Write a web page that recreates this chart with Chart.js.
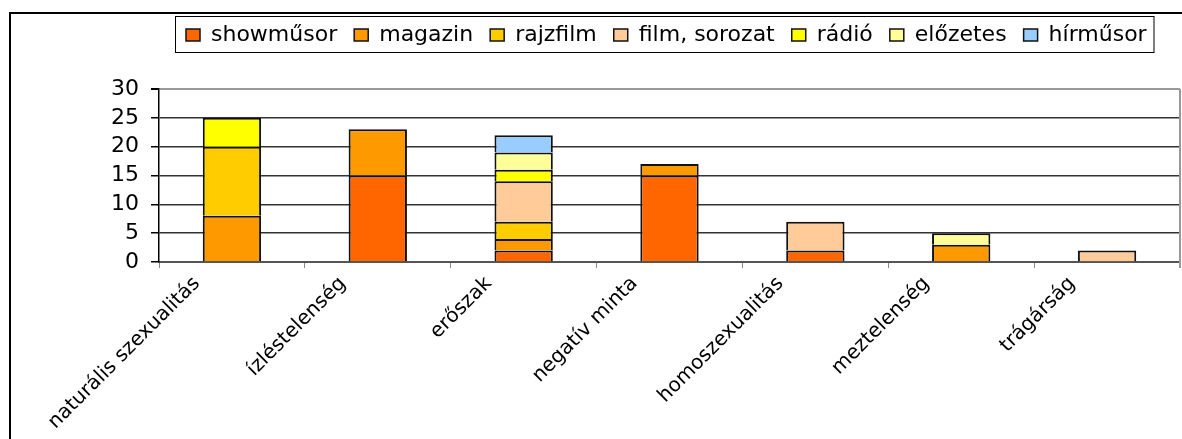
<!DOCTYPE html>
<html lang="hu">
<head>
<meta charset="UTF-8" />
<title>Kifogásolt tartalmak műfajonként</title>
<script src="https://cdn.jsdelivr.net/npm/chart.js"></script>
<style>
  html, body { margin: 0; padding: 0; background: #fff; }
  canvas { display: block; }
</style>
</head>
<body>
<canvas id="chart" width="1182" height="439"></canvas>
<script>
  // categories and series
  const categories = ['naturális szexualitás', 'ízléstelenség', 'erőszak', 'negatív minta', 'homoszexualitás', 'meztelenség', 'trágárság'];
  const showmusor   = [0, 15, 2, 15, 2, 0, 0];
  const magazin     = [8, 8, 2, 2, 0, 3, 0];
  const rajzfilm    = [12, 0, 3, 0, 0, 0, 0];
  const filmSorozat = [0, 0, 7, 0, 5, 0, 2];
  const radio       = [5, 0, 2, 0, 0, 0, 0];
  const elozetes    = [0, 0, 3, 0, 0, 2, 0];
  const hirmusor    = [0, 0, 3, 0, 0, 0, 0];
  const yTicks = [0, 5, 10, 15, 20, 25, 30];

  const seriesNames = ['showműsor', 'magazin', 'rajzfilm', 'film, sorozat', 'rádió', 'előzetes', 'hírműsor'];
  const seriesValues = [showmusor, magazin, rajzfilm, filmSorozat, radio, elozetes, hirmusor];
  const seriesColors = ['#ff6600', '#ff9900', '#ffcc00', '#ffcc99', '#ffff00', '#ffff99', '#99ccff'];

  const FONT = 'DejaVu Sans';

  // frame around the chart, box around the legend, grey plot border
  const frame = {
    id: 'frame',
    afterLayout(chart) {
      // move the legend up into the top strip and start it at x=169
      const lg = chart.legend;
      const w = lg.right - lg.left, h = lg.bottom - lg.top;
      lg.left = 169;
      lg.right = 169 + w;
      lg.top = 7;
      lg.bottom = 7 + h;
    },
    beforeDraw(chart) {
      const ctx = chart.ctx;
      ctx.save();
      ctx.fillStyle = '#fff';
      ctx.fillRect(0, 0, chart.width, chart.height);
      ctx.restore();
    },
    afterDraw(chart) {
      const ctx = chart.ctx;
      const a = chart.chartArea;
      ctx.save();
      ctx.strokeStyle = '#000';
      ctx.lineWidth = 2;
      ctx.strokeRect(10, 13, 1400, 600);

      const boxes = chart.legend.legendHitBoxes;
      const first = boxes[0], last = boxes[boxes.length - 1];
      const bx = Math.round(first.left) - 10.5;
      const by = Math.round(first.top) - 7.5;
      ctx.lineWidth = 1;
      ctx.strokeRect(bx, by, Math.round(last.left + last.width) + 7 - bx, Math.round(first.height) + 14);

      ctx.strokeStyle = '#999';
      ctx.lineWidth = 2;
      ctx.beginPath();
      ctx.moveTo(a.right, a.top);
      ctx.lineTo(a.right, a.bottom + 6);
      ctx.stroke();
      ctx.restore();
    }
  };

  new Chart(document.getElementById('chart').getContext('2d'), {
    type: 'bar',
    data: {
      labels: categories,
      datasets: seriesNames.map((name, i) => ({
        label: name,
        data: seriesValues[i],
        backgroundColor: seriesColors[i],
        borderColor: '#111',
        borderWidth: { left: 2, right: 2, top: 2, bottom: 0 },
        borderSkipped: false,
        barPercentage: 0.4,
        categoryPercentage: 1
      }))
    },
    options: {
      responsive: false,
      animation: false,
      devicePixelRatio: 1,
      layout: { padding: { left: 10, right: 2, top: 40, bottom: 0 } },
      plugins: {
        legend: {
          position: 'top',
          align: 'start',
          labels: {
            font: { family: FONT, size: 22 },
            color: '#000',
            boxWidth: 14,
            boxHeight: 12,
            padding: 17
          }
        },
        tooltip: { enabled: false }
      },
      scales: {
        x: {
          stacked: true,
          offset: true,
          z: 1,
          afterFit: s => { s.height = 177; },
          grid: { drawOnChartArea: false, offset: true, tickLength: 6, color: '#888' },
          border: { color: '#555', width: 2 },
          ticks: {
            font: { family: FONT, size: 20 },
            color: '#000',
            maxRotation: 45,
            minRotation: 45,
            autoSkip: false,
            padding: 4,
            labelOffset: -35
          }
        },
        y: {
          stacked: true,
          min: 0,
          max: 30,
          afterFit: s => { s.width = 149; },
          afterBuildTicks: s => { s.ticks = yTicks.map(v => ({ value: v })); },
          grid: {
            color: c => (c.tick && c.tick.value === 30) ? '#999' : '#333',
            lineWidth: c => (c.tick && c.tick.value === 30) ? 2 : 1.5,
            tickLength: 8,
            tickColor: '#000'
          },
          border: { color: '#000', width: 1.5 },
          ticks: {
            font: { family: FONT, size: 22 },
            color: '#000',
            autoSkip: false,
            padding: 12
          }
        }
      }
    },
    plugins: [frame]
  });
</script>
</body>
</html>
